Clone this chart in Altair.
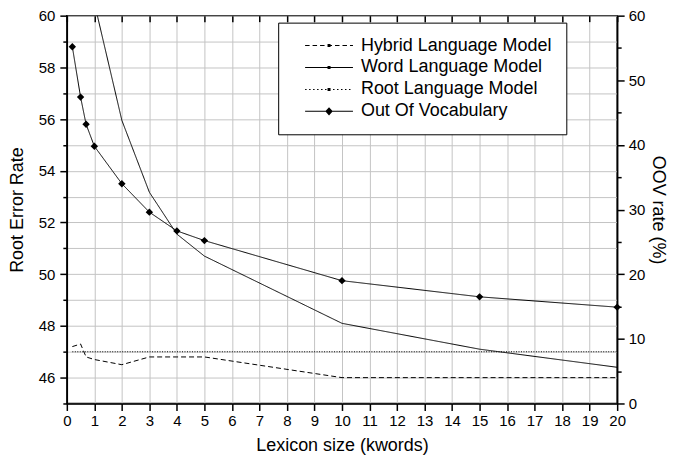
import altair as alt
import pandas as pd

# ---- data ----
series = ["Hybrid Language Model", "Word Language Model", "Root Language Model", "Out Of Vocabulary"]

lex_hybrid = [0.2, 0.5, 0.7, 1, 2, 3, 4, 5, 10, 15, 20]
hybrid = [47.2, 47.3, 46.8, 46.7, 46.5, 46.8, 46.8, 46.8, 46.0, 46.0, 46.0]

lex_word = [1, 2, 3, 4, 5, 10, 15, 20]
word = [60.5, 55.95, 53.17, 51.55, 50.7, 48.1, 47.1, 46.4]

lex_root = [0.2, 0.5, 0.7, 1, 2, 3, 4, 5, 10, 15, 20]
root = [47.0, 47.0, 47.0, 47.0, 47.0, 47.0, 47.0, 47.0, 47.0, 47.0, 47.0]

lex_oov = [0.2, 0.5, 0.7, 1, 2, 3, 4, 5, 10, 15, 20]
oov = [55.2, 47.4, 43.2, 39.8, 34.0, 29.6, 26.7, 25.2, 19.0, 16.5, 14.9]

x_ticks = list(range(0, 21))
left_ticks = list(range(45, 61))
right_ticks = list(range(0, 61, 5))

rows = []
for name, xs, ys in [(series[0], lex_hybrid, hybrid), (series[1], lex_word, word), (series[2], lex_root, root)]:
    for a, b in zip(xs, ys):
        rows.append({"series": name, "x": a, "y": b})
df_lm = pd.DataFrame(rows)
df_oov = pd.DataFrame({"series": series[3], "x": lex_oov, "oov": oov})

FONT = "Liberation Sans"
GRID = "#c4c4c4"

dash_range = [[5, 3], [1, 0], [1, 1.5], [1, 0]]


# ---- legend glyphs (filled paths, unit = 5px): a 48px line pattern + small marker ----
def rect(a, b, h=0.1):
    return f"M{a:.2f},{-h}L{b:.2f},{-h}L{b:.2f},{h}L{a:.2f},{h}Z"


def pattern(on, off):
    out, p = [], -24.0
    while p < 24:
        out.append(rect(p / 5, min(p + on, 24) / 5))
        p += on + off
    return "".join(out)


square = "M-0.3,-0.3L0.3,-0.3L0.3,0.3L-0.3,0.3Z"
diamond = "M-0.75,0L0,-0.85L0.75,0L0,0.85Z"
solid = rect(-4.8, 4.8)
shape_range = [pattern(4.5, 3) + square, solid + square, pattern(1.5, 2.5) + square, solid + diamond]

legend = alt.Legend(
    title=None, orient="none", legendX=212, legendY=7,
    strokeColor="black", fillColor="white", padding=14,
    symbolOffset=28, symbolSize=100, symbolStrokeWidth=0,
    symbolFillColor="black",
    labelFont=FONT, labelFontSize=18, labelColor="black", labelOffset=23,
    labelLimit=500, rowPadding=4,
    labelExpr="datum.label + '\u00a0\u00a0\u00a0\u00a0\u00a0\u00a0\u00a0\u00a0\u00a0\u00a0\u00a0\u00a0'",
)

x_scale = alt.Scale(domain=[0, 20], nice=False, zero=False)
x_enc = alt.X("x:Q", scale=x_scale,
              axis=alt.Axis(values=x_ticks, grid=True, gridColor=GRID, tickSize=7,
                            labelPadding=3, labelFlush=False, labelAngle=0,
                            labelOverlap=False, titlePadding=8),
              title="Lexicon size (kwords)")
# top frame: short ticks pointing into the plot
x_top = alt.X("x:Q", scale=x_scale,
              axis=alt.Axis(values=x_ticks, orient="top", grid=False, labels=False, domain=False,
                            tickSize=6, offset=-6, title=None))

left_axis = alt.Axis(
    values=left_ticks,
    labelExpr="datum.value % 2 == 0 && datum.value > 45 ? datum.label : ''",
    tickSize={"condition": {"test": "datum.value % 2 == 0", "value": 7}, "value": 4},
    grid=True, gridColor=GRID, labelPadding=5, titlePadding=12, labelFlush=False,
    labelOverlap=False,
)
right_axis = alt.Axis(
    values=right_ticks, orient="right",
    labelExpr="datum.value % 10 == 0 ? datum.label : ''",
    tickSize={"condition": {"test": "datum.value % 10 == 0", "value": 7}, "value": 4},
    grid=False, labelPadding=4, titlePadding=4, labelFlush=False, labelOverlap=False,
)

y_left = alt.Y("y:Q", scale=alt.Scale(domain=[45, 60], nice=False, zero=False), axis=left_axis,
               title="Root Error Rate")
y_right = alt.Y("oov:Q", scale=alt.Scale(domain=[0, 60], nice=False, zero=False), axis=right_axis,
                title="OOV rate (%)")

dash_enc = alt.StrokeDash("series:N", scale=alt.Scale(domain=series, range=dash_range), legend=legend)

lm_lines = alt.Chart(df_lm).mark_line(color="black", strokeWidth=1, clip=True).encode(
    x=x_enc, y=y_left, strokeDash=dash_enc,
)

legend_only = alt.Chart(df_lm).transform_filter("false").mark_point(
    filled=True, color="black", size=100, opacity=1
).encode(
    x=x_enc, y=y_left,
    shape=alt.Shape("series:N", scale=alt.Scale(domain=series, range=shape_range), legend=legend),
)

oov_line = alt.Chart(df_oov).mark_line(color="black", strokeWidth=1).encode(
    x=x_top, y=y_right, strokeDash=dash_enc,
)
oov_pts = alt.Chart(df_oov).mark_point(shape="diamond", filled=True, size=55, color="black", opacity=1).encode(
    x=x_top, y=y_right,
)

chart = alt.layer(
    alt.layer(lm_lines, legend_only),
    alt.layer(oov_line, oov_pts),
).resolve_scale(y="independent").resolve_axis(x="independent").properties(
    width=552, height=389,
    padding={"left": 0, "top": 0, "right": 3, "bottom": 0},
).configure_view(stroke="black", strokeWidth=1.5).configure_axis(
    labelFont=FONT, titleFont=FONT, labelFontSize=15, titleFontSize=18,
    labelColor="black", titleColor="black", titleFontWeight="normal",
    domainColor="black", tickColor="black", domainWidth=1.5, tickWidth=1.5,
)

chart.save("out.html", embed_options={"renderer": "svg", "actions": False})
